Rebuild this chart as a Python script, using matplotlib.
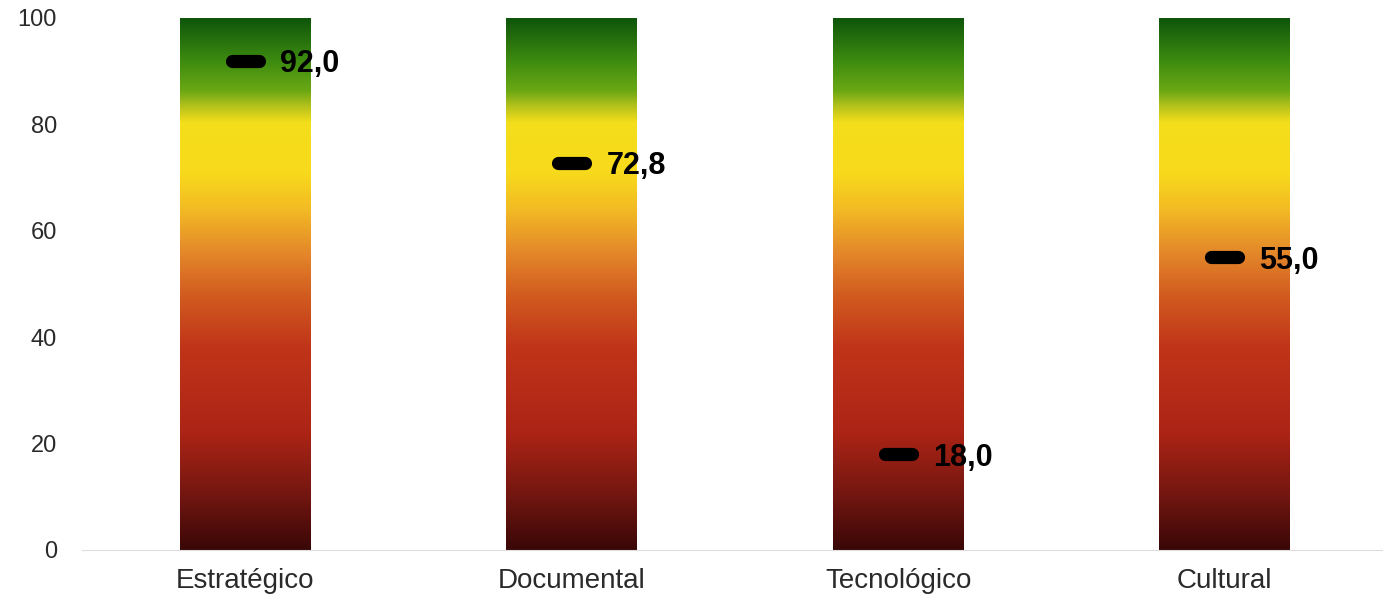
import matplotlib.pyplot as plt
import numpy as np
from matplotlib.colors import LinearSegmentedColormap

# ------------------------------------------------
# Data
# ------------------------------------------------
categories = ["Estratégico", "Documental", "Tecnológico", "Cultural"]
scores = [92.0, 72.8, 18.0, 55.0]
scale_max = 100
yticks = [0, 20, 40, 60, 80, 100]

# ------------------------------------------------
# Gradient (red -> orange -> yellow -> green)
# ------------------------------------------------
stops = [
    (0.00, "#3a0707"),
    (0.10, "#721610"),
    (0.22, "#ac2416"),
    (0.38, "#c03419"),
    (0.48, "#d25c20"),
    (0.56, "#e4882a"),
    (0.64, "#f2ba24"),
    (0.71, "#f8da1c"),
    (0.805, "#f4de1a"),
    (0.835, "#b6c21c"),
    (0.865, "#6aa814"),
    (0.92, "#3e8c10"),
    (1.00, "#0f560b"),
]
cmap = LinearSegmentedColormap.from_list("score", stops)
grad = np.linspace(0, 1, 256).reshape(-1, 1)

plt.rcParams["font.family"] = ["Liberation Sans", "DejaVu Sans"]

fig = plt.figure(figsize=(13.83, 6.07), dpi=100)
ax = fig.add_axes([82 / 1383, 57 / 607, 1306 / 1383, 532 / 607])

x = np.arange(len(categories))
bar_w = 0.4
for xi, val in zip(x, scores):
    ax.imshow(grad, cmap=cmap, origin="lower", aspect="auto",
              extent=(xi - bar_w / 2, xi + bar_w / 2, 0, scale_max),
              interpolation="bilinear", zorder=2)
    ax.plot([xi - 0.042, xi + 0.042], [val, val], color="black",
            linewidth=9.5, solid_capstyle="round", zorder=3)
    ax.text(xi + 0.106, val, f"{val:.1f}".replace(".", ","),
            ha="left", va="center_baseline", fontsize=22, fontweight="bold",
            color="black", zorder=4)

ax.set_xlim(-0.5, 3.5)
ax.set_ylim(0, scale_max)
ax.set_xticks(x)
ax.set_xticklabels(categories, fontsize=20, color="#2a2a2a")
ax.set_yticks(yticks)
ax.set_yticklabels([str(t) for t in yticks], fontsize=17, color="#2a2a2a")
ax.tick_params(axis="both", length=0)
ax.tick_params(axis="x", pad=13)
ax.tick_params(axis="y", pad=18)

for side in ["top", "right", "left"]:
    ax.spines[side].set_visible(False)
ax.spines["bottom"].set_color("#dddddd")

fig.savefig("out.png", dpi=100, facecolor="white")
